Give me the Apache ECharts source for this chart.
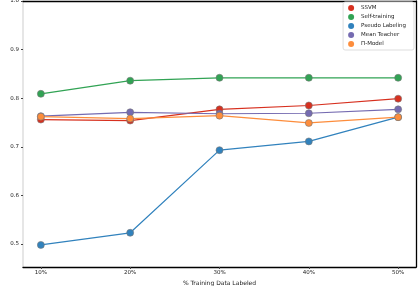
<!DOCTYPE html>
<html>
<head>
<meta charset="utf-8">
<script src="https://cdn.jsdelivr.net/npm/echarts@6/dist/echarts.min.js"></script>
<style>html,body{margin:0;padding:0;background:#fff}#c{width:418px;height:286px}</style>
</head>
<body>
<div id="c"></div>
<script>
const categories = [10, 20, 30, 40, 50];
const ssvm = [0.756, 0.754, 0.777, 0.785, 0.799];
const selfTraining = [0.809, 0.836, 0.842, 0.842, 0.842];
const pseudoLabeling = [0.498, 0.523, 0.693, 0.711, 0.761];
const meanTeacher = [0.763, 0.771, 0.768, 0.769, 0.777];
const piModel = [0.762, 0.758, 0.764, 0.749, 0.761];
const yTicks = [0.5, 0.6, 0.7, 0.8, 0.9, 1.0];
const seriesNames = ['SSVM', 'Self-training', 'Pseudo Labeling', 'Mean Teacher', 'Π-Model'];
const seriesData = [ssvm, selfTraining, pseudoLabeling, meanTeacher, piModel];
const colors = ['#d7301f', '#31a354', '#3182bd', '#756bb1', '#fd8d3c'];

const chart = echarts.init(document.getElementById('c'));
const font = 'DejaVu Sans';
const series = seriesNames.map((n, i) => ({
  name: n,
  type: 'line',
  data: categories.map((c, j) => [c, seriesData[i][j]]),
  symbol: 'circle',
  symbolSize: 7,
  lineStyle: { width: 1.2, color: colors[i] },
  itemStyle: { color: colors[i], borderColor: '#777', borderWidth: 0.6 },
  emphasis: { disabled: true },
  xAxisIndex: 0, yAxisIndex: 0,
  z: 2 + i
}));
series[2].z = 1;

chart.setOption({
  animation: false,
  textStyle: { fontFamily: font },
  grid: { left: 23, right: 2, top: 1, bottom: 19, containLabel: false, outerBoundsMode: 'none' },
  legend: {
    right: 4, top: 2,
    orient: 'vertical',
    icon: 'circle',
    itemWidth: 6, itemHeight: 6,
    itemGap: 3,
    padding: [3, 8, 3, 5],
    borderColor: '#ddd', borderWidth: 1, borderRadius: 2,
    backgroundColor: '#fff',
    itemStyle: { borderWidth: 0 },
    textStyle: { fontSize: 5.5, color: '#222', fontFamily: font, padding: [0, 0, 0, 2] },
    data: seriesNames
  },
  xAxis: [{
    type: 'value', min: 8, max: 52, position: 'bottom',
    name: '% Training Data Labeled', nameLocation: 'middle', nameGap: 12,
    nameTextStyle: { fontSize: 6, color: '#222' },
    axisLine: { show: true, onZero: false, lineStyle: { color: '#000', width: 1.3 } },
    axisTick: { show: true, customValues: categories, length: 2, lineStyle: { color: '#444' } },
    axisLabel: { customValues: categories, fontSize: 5.5, color: '#222', margin: 3, formatter: v => v + '%' },
    splitLine: { show: false }
  }, {
    type: 'value', min: 8, max: 52, position: 'top', offset: 0,
    axisLine: { show: true, onZero: false, lineStyle: { color: '#000', width: 1.3 } },
    axisTick: { show: false }, axisLabel: { show: false }, splitLine: { show: false }
  }],
  yAxis: [{
    type: 'value', min: 0.4526, max: 1.0, position: 'left', offset: 0,
    name: 'AUC', nameLocation: 'middle', nameGap: 17,
    nameTextStyle: { fontSize: 6, color: '#222' },
    axisLine: { show: true, onZero: false, lineStyle: { color: '#e6e6e6', width: 2 } },
    axisTick: { show: true, customValues: yTicks, length: 2, lineStyle: { color: '#444' } },
    axisLabel: { customValues: yTicks, fontSize: 5.5, color: '#222', margin: 4, formatter: v => v.toFixed(1) },
    splitLine: { show: false }
  }, {
    type: 'value', min: 0.4526, max: 1.0, position: 'right', offset: 0,
    axisLine: { show: true, onZero: false, lineStyle: { color: '#000', width: 1.3 } },
    axisTick: { show: false }, axisLabel: { show: false }, splitLine: { show: false }
  }],
  series: series
});
</script>
</body>
</html>
